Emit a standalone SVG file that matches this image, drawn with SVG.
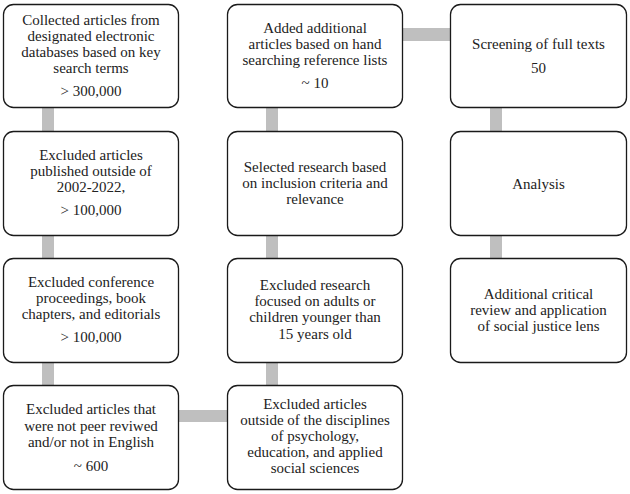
<svg xmlns="http://www.w3.org/2000/svg" width="630" height="494" viewBox="0 0 630 494">
<style>
.box{fill:#ffffff;stroke:#1a1a1a;stroke-width:1.3}
text{font-family:'Liberation Serif','Times New Roman',serif;font-size:15px;fill:#222222;text-anchor:middle}
.c{fill:#bfbfbf}
</style>
<rect width="630" height="494" fill="#ffffff"/>
<g id="connectors">
<rect class="c" x="42" y="108" width="12" height="23"/>
<rect class="c" x="42" y="236" width="12" height="22"/>
<rect class="c" x="42" y="363" width="12" height="22"/>
<rect class="c" x="179" y="410" width="48" height="12"/>
<rect class="c" x="266" y="108" width="12" height="23"/>
<rect class="c" x="266" y="236" width="12" height="22"/>
<rect class="c" x="266" y="363" width="12" height="22"/>
<rect class="c" x="403" y="28" width="47" height="13"/>
<rect class="c" x="490" y="108" width="12" height="23"/>
<rect class="c" x="490" y="236" width="12" height="22"/>
</g>
<g font-family="Liberation Serif, serif">
<g id="n1">
<rect class="box" x="3.5" y="4.5" width="175" height="103" rx="10"/>
<text x="91" y="25">Collected articles from</text>
<text x="91" y="41">designated electronic</text>
<text x="91" y="57">databases based on key</text>
<text x="91" y="73">search terms</text>
<text x="91" y="96">&gt; 300,000</text>
</g>
<g id="n2">
<rect class="box" x="3.5" y="131.5" width="175" height="104" rx="10"/>
<text x="91" y="160">Excluded articles</text>
<text x="91" y="176">published outside of</text>
<text x="91" y="192">2002-2022,</text>
<text x="91" y="215">&gt; 100,000</text>
</g>
<g id="n3">
<rect class="box" x="3.5" y="258.5" width="175" height="104" rx="10"/>
<text x="91" y="287">Excluded conference</text>
<text x="91" y="303">proceedings, book</text>
<text x="91" y="319">chapters, and editorials</text>
<text x="91" y="342">&gt; 100,000</text>
</g>
<g id="n4">
<rect class="box" x="3.5" y="385.5" width="175" height="104" rx="10"/>
<text x="91" y="414">Excluded articles that</text>
<text x="91" y="431">were not peer reviwed</text>
<text x="91" y="447">and/or not in English</text>
<text x="91" y="471">~ 600</text>
</g>
<g id="n5">
<rect class="box" x="227.5" y="385.5" width="175" height="104" rx="10"/>
<text x="315" y="409">Excluded articles</text>
<text x="315" y="425">outside of the disciplines</text>
<text x="315" y="441">of psychology,</text>
<text x="315" y="457">education, and applied</text>
<text x="315" y="473">social sciences</text>
</g>
<g id="n6">
<rect class="box" x="227.5" y="258.5" width="175" height="104" rx="10"/>
<text x="315" y="290">Excluded research</text>
<text x="315" y="306">focused on adults or</text>
<text x="315" y="322">children younger than</text>
<text x="315" y="339">15 years old</text>
</g>
<g id="n7">
<rect class="box" x="227.5" y="131.5" width="175" height="104" rx="10"/>
<text x="315" y="172">Selected research based</text>
<text x="315" y="188">on inclusion criteria and</text>
<text x="315" y="204">relevance</text>
</g>
<g id="n8">
<rect class="box" x="227.5" y="4.5" width="175" height="103" rx="10"/>
<text x="315" y="33">Added additional</text>
<text x="315" y="49">articles based on hand</text>
<text x="315" y="65">searching reference lists</text>
<text x="315" y="88">~ 10</text>
</g>
<g id="n9">
<rect class="box" x="450.5" y="4.5" width="176" height="103" rx="10"/>
<text x="538.5" y="49">Screening of full texts</text>
<text x="538.5" y="73">50</text>
</g>
<g id="n10">
<rect class="box" x="450.5" y="131.5" width="176" height="104" rx="10"/>
<text x="538.5" y="189">Analysis</text>
</g>
<g id="n11">
<rect class="box" x="450.5" y="258.5" width="176" height="104" rx="10"/>
<text x="538.5" y="299">Additional critical</text>
<text x="538.5" y="315">review and application</text>
<text x="538.5" y="331">of social justice lens</text>
</g>
</g>
</svg>
